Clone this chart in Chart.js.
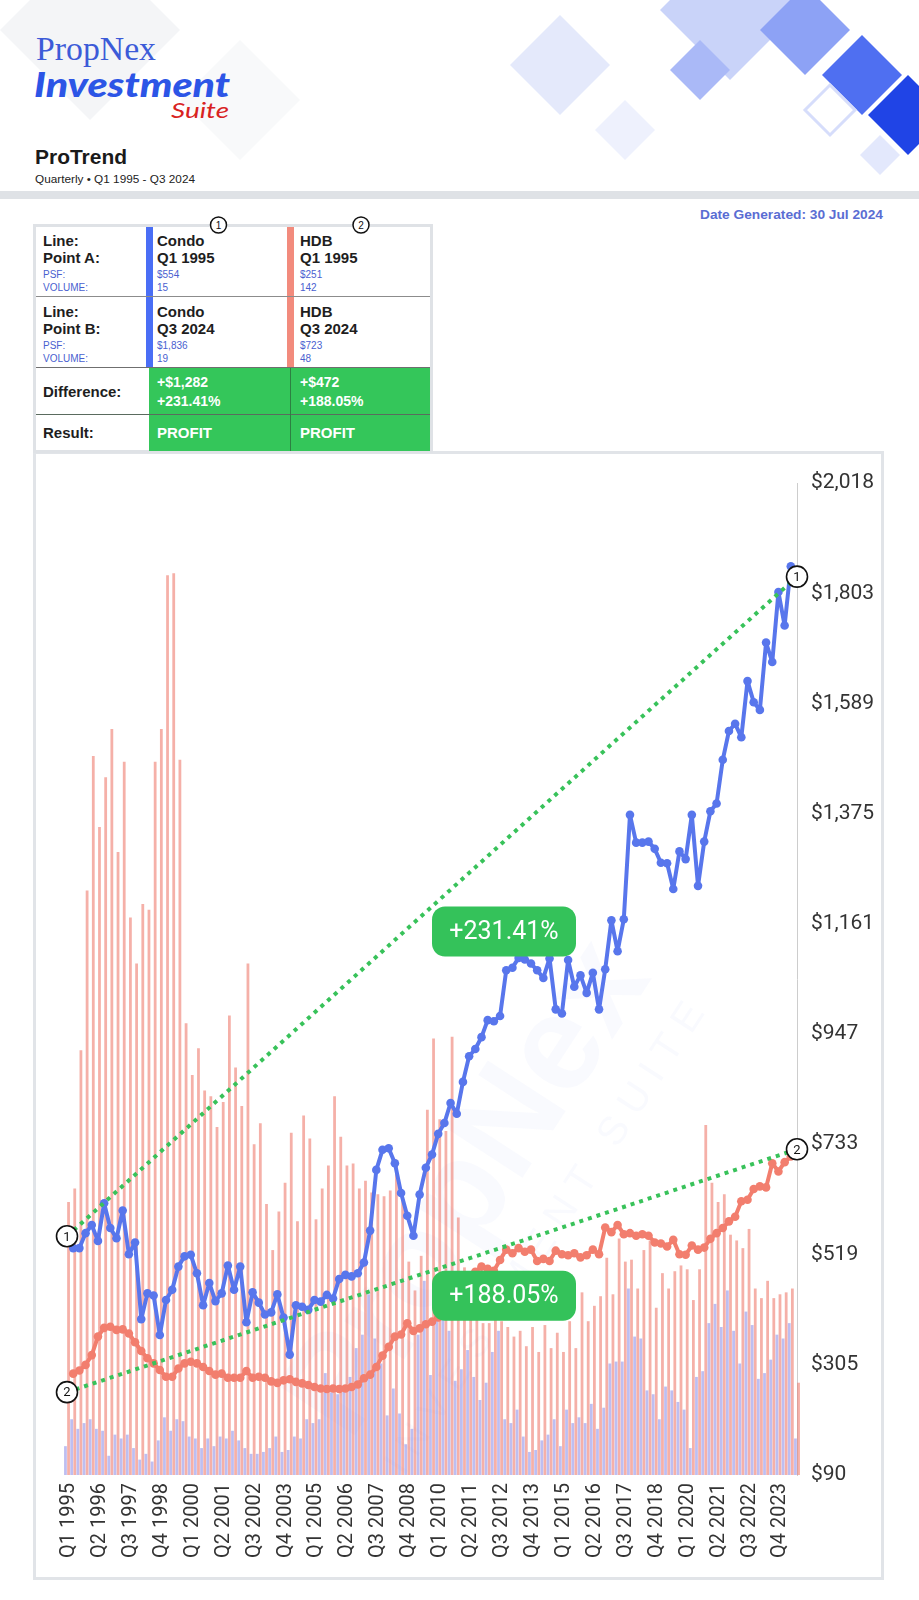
<!DOCTYPE html>
<html><head><meta charset="utf-8">
<script src="https://cdn.jsdelivr.net/npm/chart.js@4.4.1/dist/chart.umd.min.js"></script>
<style>
html,body{margin:0;padding:0;background:#fff;}
body{width:919px;height:1600px;position:relative;overflow:hidden;font-family:"Liberation Sans",Arial,sans-serif;}
.abs{position:absolute;}
#box{position:absolute;left:33px;top:451px;width:851px;height:1129px;border:3px solid #e1e4e8;box-sizing:border-box;background:#fff;}
#c{position:absolute;left:36px;top:454px;}
#hdr{position:absolute;left:0;top:0;z-index:2;}
</style></head><body>
<div id="box"></div>
<canvas id="c" width="846" height="1124"></canvas>
<svg id="hdr" width="919" height="453" viewBox="0 0 919 453" font-family="Liberation Sans, Arial, sans-serif">
  <g>
    <polygon points="90,-60 180,30 90,120 0,30" fill="#f4f5f7"/>
    <polygon points="240,40 300,100 240,160 180,100" fill="#f8f9fa"/>
    <polygon points="560,15 610,65 560,115 510,65" fill="#e4e9fb"/>
    <polygon points="625,100 655,130 625,160 595,130" fill="#eef1fd"/>
    <polygon points="730,-60 800,10 730,80 660,10" fill="#c9d3f9"/>
    <polygon points="805,-15 850,30 805,75 760,30" fill="#8da2f5"/>
    <polygon points="700,40 730,70 700,100 670,70" fill="#aab9f7"/>
    <polygon points="862,35 902,75 862,115 822,75" fill="#4f6ff1"/>
    <polygon points="830,85 855,110 830,135 805,110" fill="#ffffff" stroke="#d6ddfb" stroke-width="3"/>
    <polygon points="908,75 948,115 908,155 868,115" fill="#2044e6"/>
    <polygon points="880,135 900,155 880,175 860,155" fill="#e3e8fc"/>
  </g>
  <text x="36" y="60" font-family="Liberation Serif, serif" font-size="34" fill="#3c5bd8" textLength="120" lengthAdjust="spacingAndGlyphs">PropNex</text>
  <text x="34" y="97" font-family="Lato" font-weight="900" font-style="italic" font-size="35" fill="#2c55e6" textLength="196" lengthAdjust="spacingAndGlyphs">Investment</text>
  <text x="171" y="118" font-family="Lato" font-style="italic" font-size="22" fill="#d8231f" textLength="58" lengthAdjust="spacingAndGlyphs">Suite</text>
  <text x="35" y="164" font-weight="bold" font-size="20.5" fill="#1a1a1a" textLength="92" lengthAdjust="spacingAndGlyphs">ProTrend</text>
  <text x="35" y="183" font-size="11.5" fill="#222" textLength="160" lengthAdjust="spacingAndGlyphs">Quarterly • Q1 1995 - Q3 2024</text>
  <rect x="0" y="191" width="919" height="8" fill="#dfe2e6"/>
  <text x="700" y="219" font-weight="bold" font-size="13.5" fill="#5a6dd3" textLength="183" lengthAdjust="spacingAndGlyphs">Date Generated: 30 Jul 2024</text>

  <!-- table -->
  <rect x="34.5" y="225.5" width="397" height="226" fill="#fff" stroke="#dfe2e6" stroke-width="3"/>
  <rect x="149" y="368" width="281" height="83" fill="#34c65a"/>
  <rect x="146" y="227" width="7" height="141" fill="#4a6ef5"/>
  <rect x="287" y="227" width="7" height="141" fill="#f28b7d"/>
  <line x1="36" y1="296.5" x2="430" y2="296.5" stroke="#8c8c8c" stroke-width="1"/>
  <line x1="36" y1="367.5" x2="430" y2="367.5" stroke="#6f6f6f" stroke-width="1"/>
  <line x1="36" y1="414.5" x2="430" y2="414.5" stroke="#5a6b5e" stroke-width="1"/>
  <line x1="290.5" y1="368" x2="290.5" y2="451" stroke="#2d7f42" stroke-width="1"/>
  <g id="tbl"></g>
</svg>

<script>
// ---------- DATA ----------
const startYear = 1995, endYear = 2024, endQuarter = 3;
const quarterLabels = [];
for (let y = startYear; y <= endYear; y++) {
  for (let q = 1; q <= 4; q++) {
    if (y === endYear && q > endQuarter) break;
    quarterLabels.push('Q' + q + ' ' + y);
  }
}
const labelEvery = 5;
const yTickValues = [90, 305, 519, 733, 947, 1161, 1375, 1589, 1803, 2018];
const volMax = 516;

// Condo PSF (line)
const condoPsf = [null,
 531,531,560,576,545,618,570,550,604,519,542,393,443,439,362,430,450,495,515,518,
 482,420,463,428,443,497,450,495,387,445,425,402,406,441,396,324,420,417,411,430,
 427,440,433,471,479,476,482,503,565,683,722,725,696,638,594,555,635,687,713,753,
 774,813,792,854,904,918,941,974,972,982,1071,1076,1095,1092,1084,1071,1056,1094,995,987,
 1091,1039,1061,1027,1066,995,1073,1168,1108,1170,1373,1319,1319,1321,1307,1280,1279,1229,1302,1287,
 1373,1235,1321,1380,1395,1480,1536,1550,1524,1633,1592,1577,1708,1670,1806,1741,1856,
 null];
// HDB PSF (line)
const hdbPsf = [null,
 287,293,304,323,359,376,378,372,373,365,348,331,317,307,294,281,281,297,307,310,
 307,300,292,285,287,279,279,279,292,279,281,279,272,269,274,276,271,268,265,261,
 258,257,258,257,258,261,266,278,285,300,322,339,359,363,385,370,375,383,388,396,
 407,423,442,460,474,485,495,491,487,508,528,521,531,524,528,506,510,506,526,519,
 517,521,513,517,528,519,571,562,576,558,560,555,558,555,542,540,534,547,519,518,
 536,528,532,549,560,570,583,592,622,625,646,651,649,696,680,698,709,
 null];
// Condo transaction volume (bars)
const condoVol = [
 15,29,24,27,29,24,23,10,21,19,21,14,8,11,7,18,30,23,29,28,
 20,19,14,19,15,20,19,23,18,14,11,11,12,14,20,12,13,20,19,29,
 27,29,53,43,42,46,51,66,73,94,71,58,31,45,32,16,24,73,101,52,
 82,81,75,49,55,65,51,39,48,64,75,29,27,34,20,12,13,18,21,29,
 15,34,27,30,27,37,24,35,58,59,59,97,72,71,44,42,29,46,44,38,
 34,14,51,54,79,89,77,96,75,58,85,78,50,53,60,73,71,79,19];
// HDB transaction volume (bars)
const hdbVol = [
 142,149,221,304,374,337,363,388,324,371,290,266,297,294,371,388,468,469,372,235,
 208,222,200,197,181,194,239,212,192,266,172,183,141,117,137,152,178,132,187,175,
 133,149,161,197,176,161,162,149,153,147,146,145,148,164,148,111,96,114,190,227,
 185,179,228,134,108,96,91,79,79,81,80,77,72,75,67,77,64,78,66,74,
 64,80,66,95,80,88,93,113,94,123,111,112,97,117,122,87,105,97,106,109,
 107,91,107,182,152,142,146,125,122,118,128,97,92,101,92,94,95,97,48];

// Point A / Point B (table + trend lines)
const lineNames   = ['Condo', 'HDB'];
const pointAQuarter = 'Q1 1995', pointBQuarter = 'Q3 2024';
const psfA = [554, 251];
const psfB = [1836, 723];
const volA = [15, 142];
const volB = [19, 48];
const diffAbs = ['+$1,282', '+$472'];
const diffPct = ['+231.41%', '+188.05%'];
const results = ['PROFIT', 'PROFIT'];

// ---------- TABLE TEXT ----------
const NS = 'http://www.w3.org/2000/svg';
const tbl = document.getElementById('tbl');
function T(x, y, txt, size, color, bold) {
  const t = document.createElementNS(NS, 'text');
  t.setAttribute('x', x); t.setAttribute('y', y);
  t.setAttribute('font-size', size); t.setAttribute('fill', color);
  if (bold) t.setAttribute('font-weight', 'bold');
  t.textContent = txt; tbl.appendChild(t);
}
const dark = '#1e1e1e', blueTxt = '#4a5fd0';
[[246, 'Point A:', pointAQuarter, psfA, volA], [317, 'Point B:', pointBQuarter, psfB, volB]].forEach(r => {
  const b = r[0];
  T(43, b, 'Line:', 15, dark, true);
  T(43, b + 17, r[1], 15, dark, true);
  T(43, b + 32, 'PSF:', 10, blueTxt);
  T(43, b + 45, 'VOLUME:', 10, blueTxt);
  [157, 300].forEach((x, i) => {
    T(x, b, lineNames[i], 15, dark, true);
    T(x, b + 17, r[2], 15, dark, true);
    T(x, b + 32, '$' + r[3][i].toLocaleString('en-US'), 10, blueTxt);
    T(x, b + 45, String(r[4][i]), 10, blueTxt);
  });
});
T(43, 397, 'Difference:', 15, dark, true);
T(43, 438, 'Result:', 15, dark, true);
[157, 300].forEach((x, i) => {
  T(x, 387, diffAbs[i], 14, '#fff', true);
  T(x, 406, diffPct[i], 14, '#fff', true);
  T(x, 438, results[i], 15, '#fff', true);
});
[[218.5, '1'], [361, '2']].forEach(c => {
  const el = document.createElementNS(NS, 'circle');
  el.setAttribute('cx', c[0]); el.setAttribute('cy', 225); el.setAttribute('r', 8);
  el.setAttribute('fill', '#fff'); el.setAttribute('stroke', '#111'); el.setAttribute('stroke-width', 1.5);
  tbl.appendChild(el);
  const t = document.createElementNS(NS, 'text');
  t.setAttribute('x', c[0]); t.setAttribute('y', 228.5); t.setAttribute('text-anchor', 'middle');
  t.setAttribute('font-size', 10); t.setAttribute('fill', '#111'); t.textContent = c[1];
  tbl.appendChild(t);
});

// ---------- CHART ----------
const N = quarterLabels.length;
function trend(a, b) { const t = new Array(N).fill(null); t[0] = a; t[N - 1] = b; return t; }
const condoTrend = trend(psfA[0], psfB[0]);
const hdbTrend = trend(psfA[1], psfB[1]);

const BLUE = '#5876ec', RED = '#f27e6e', GREEN = '#38c25a';
Chart.defaults.font.family = 'Roboto, "Liberation Sans", sans-serif';

const overlay = {
  id: 'overlay',
  beforeDatasetsDraw(chart) {
    const ctx = chart.ctx;
    ctx.save();
    ctx.translate(470 - 36, 1190 - 454);
    ctx.rotate(-57 * Math.PI / 180);
    ctx.fillStyle = 'rgba(95,115,225,0.035)';
    ctx.textAlign = 'center'; ctx.textBaseline = 'middle';
    ctx.font = 'bold 135px "Liberation Sans"';
    ctx.fillText('PropNex', 0, 0);
    ctx.font = '40px "Liberation Sans"';
    ctx.fillText('I N V E S T M E N T   S U I T E', 0, 90);
    ctx.restore();
  },
  afterDatasetsDraw(chart) {
    const ctx = chart.ctx;
    [[4, 0], [5, 1]].forEach(([di, k]) => {
      const pts = chart.getDatasetMeta(di).data;
      const p0 = pts[0], p1 = pts[pts.length - 1];
      const mx = (p0.x + p1.x) / 2, my = (p0.y + p1.y) / 2;
      ctx.save();
      ctx.fillStyle = '#34c25a';
      ctx.beginPath(); ctx.roundRect(mx, my, 144, 50, 13); ctx.fill();
      ctx.fillStyle = '#fff'; ctx.font = '25px Roboto';
      ctx.textAlign = 'center'; ctx.textBaseline = 'middle';
      ctx.fillText(diffPct[k], mx + 72, my + 26);
      [p0, p1].forEach(p => {
        ctx.beginPath(); ctx.arc(p.x, p.y, 10.5, 0, Math.PI * 2);
        ctx.fillStyle = '#fff'; ctx.fill();
        ctx.lineWidth = 1.6; ctx.strokeStyle = '#111'; ctx.stroke();
        ctx.fillStyle = '#111'; ctx.font = '13px Roboto';
        ctx.fillText(String(k + 1), p.x, p.y + 1);
      });
      ctx.restore();
    });
  }
};

new Chart(document.getElementById('c'), {
  data: {
    labels: quarterLabels,
    datasets: [
      { type: 'line', label: 'Condo PSF', data: condoPsf, yAxisID: 'y', borderColor: BLUE, backgroundColor: BLUE,
        borderWidth: 4, borderJoinStyle: 'round', borderCapStyle: 'round',
        pointRadius: 4.3, pointBorderWidth: 0, pointBackgroundColor: BLUE, order: 2 },
      { type: 'line', label: 'HDB PSF', data: hdbPsf, yAxisID: 'y', borderColor: RED, backgroundColor: RED,
        borderWidth: 4, borderJoinStyle: 'round', borderCapStyle: 'round',
        pointRadius: 4.3, pointBorderWidth: 0, pointBackgroundColor: RED, order: 2 },
      { type: 'bar', label: 'Condo Volume', data: condoVol, yAxisID: 'y2', backgroundColor: 'rgba(125,125,228,0.5)',
        barPercentage: 0.9, categoryPercentage: 1, order: 5, clip: false },
      { type: 'bar', label: 'HDB Volume', data: hdbVol, yAxisID: 'y2', backgroundColor: 'rgba(236,112,96,0.55)',
        barPercentage: 0.9, categoryPercentage: 1, order: 5, clip: false },
      { type: 'line', label: 'Condo trend', data: condoTrend, yAxisID: 'y', borderColor: GREEN, borderWidth: 4,
        borderDash: [4, 5], pointRadius: 0, spanGaps: true, order: 1 },
      { type: 'line', label: 'HDB trend', data: hdbTrend, yAxisID: 'y', borderColor: GREEN, borderWidth: 4,
        borderDash: [4, 5], pointRadius: 0, spanGaps: true, order: 1 }
    ]
  },
  options: {
    responsive: false, animation: false, devicePixelRatio: 1,
    layout: { padding: { left: 31, top: 29, right: 0, bottom: 0 } },
    plugins: { legend: { display: false }, tooltip: { enabled: false } },
    scales: {
      x: {
        type: 'category', offset: false,
        grid: { display: false, drawTicks: false }, border: { display: false },
        ticks: {
          autoSkip: false, minRotation: 90, maxRotation: 90, padding: 8, labelOffset: 2,
          font: { size: 20 }, color: '#333',
          callback: function (v, i) { return i % labelEvery === 0 ? this.getLabelForValue(v) : ''; }
        },
        afterFit(s) { s.height = 103; }
      },
      y: {
        position: 'right', min: yTickValues[0], max: yTickValues[yTickValues.length - 1],
        grid: { display: false, drawTicks: false },
        border: { display: true, color: '#cdcdcd', width: 1 },
        ticks: { padding: 14, font: { size: 21 }, color: '#333',
          callback: v => '$' + Math.round(v).toLocaleString('en-US') },
        afterBuildTicks(s) { s.ticks = yTickValues.map(v => ({ value: v })); },
        afterFit(s) { s.width = 85; }
      },
      y2: { display: false, position: 'left', min: 0, max: volMax }
    }
  },
  plugins: [overlay]
});
</script>
</body></html>
